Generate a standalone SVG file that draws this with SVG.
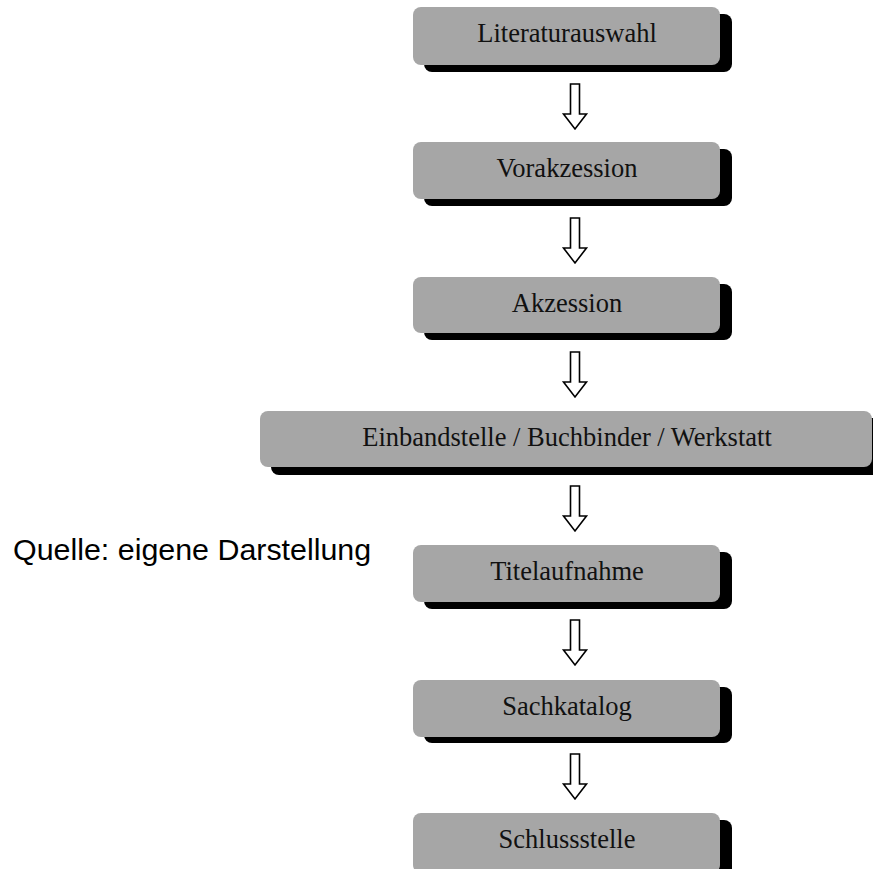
<svg xmlns="http://www.w3.org/2000/svg" width="873" height="869" viewBox="0 0 873 869">
<style>
.box{fill:#a6a6a6}
.sh{fill:#000}
.t{font-family:"Liberation Serif","Times New Roman",serif;font-size:26.5px;fill:#111;text-anchor:middle}
.arr{fill:#fff;stroke:#000;stroke-width:1.6;stroke-linejoin:miter}
.src{font-family:"Liberation Sans",Arial,sans-serif;font-size:30.4px;fill:#000}
</style>
<defs>
<path id="ar" class="arr" d="M-4.5,0 H4.5 V30 H11.5 L0,45 L-11.5,30 H-4.5 Z"/>
</defs>
<g id="n1"><rect class="sh" x="424" y="14" width="308" height="58" rx="8"/><rect class="box" x="413" y="7" width="307" height="58" rx="8"/><text class="t" x="567" y="42">Literaturauswahl</text></g>
<g id="n2"><rect class="sh" x="424" y="149" width="308" height="57" rx="8"/><rect class="box" x="413" y="142" width="307" height="57" rx="8"/><text class="t" x="567" y="177">Vorakzession</text></g>
<g id="n3"><rect class="sh" x="424" y="284" width="308" height="56" rx="8"/><rect class="box" x="413" y="277" width="307" height="56" rx="8"/><text class="t" x="567" y="312">Akzession</text></g>
<g id="n4"><rect class="sh" x="271" y="418" width="614" height="57" rx="8"/><rect class="box" x="260" y="411" width="612" height="56" rx="8"/><text class="t" x="567" y="446">Einbandstelle / Buchbinder / Werkstatt</text></g>
<g id="n5"><rect class="sh" x="424" y="552" width="308" height="57" rx="8"/><rect class="box" x="413" y="545" width="307" height="57" rx="8"/><text class="t" x="567" y="580">Titelaufnahme</text></g>
<g id="n6"><rect class="sh" x="424" y="687" width="308" height="56" rx="8"/><rect class="box" x="413" y="680" width="307" height="57" rx="8"/><text class="t" x="567" y="715">Sachkatalog</text></g>
<g id="n7"><rect class="sh" x="424" y="820" width="308" height="60" rx="8"/><rect class="box" x="413" y="813" width="307" height="60" rx="8"/><text class="t" x="567" y="848">Schlussstelle</text></g>
<g id="connectors">
<use href="#ar" x="575" y="84"/>
<use href="#ar" x="575" y="218"/>
<use href="#ar" x="575" y="352"/>
<use href="#ar" x="575" y="486"/>
<use href="#ar" x="575" y="620"/>
<use href="#ar" x="575" y="754"/>
</g>
<text class="src" x="13" y="560">Quelle: eigene Darstellung</text>
</svg>
